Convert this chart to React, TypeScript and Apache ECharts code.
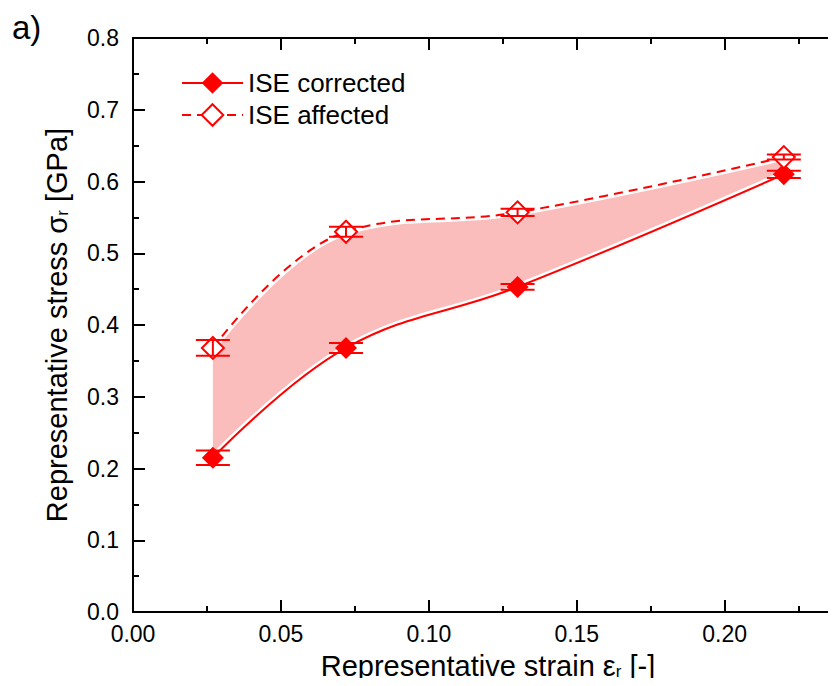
import React, { useEffect, useRef } from "react";
import * as echarts from "echarts";

const strain = [0.027, 0.072, 0.13, 0.22];
const corrected = [0.215, 0.368, 0.453, 0.61];
const correctedErr = [0.01, 0.007, 0.004, 0.005];
const affected = [0.368, 0.53, 0.557, 0.634];
const affectedErr = [0.011, 0.007, 0.005, 0.0035];
const xMajorTicks = [0, 0.05, 0.1, 0.15, 0.2];
const yMajorTicks = [0, 0.1, 0.2, 0.3, 0.4, 0.5, 0.6, 0.7, 0.8];

const FONT = "'Liberation Sans', Arial, Helvetica, sans-serif";
const RED = "#ff0000";
const SMOOTH = 0.4;

function fmtX(v: number) {
  return xMajorTicks.some((t) => Math.abs(t - v) < 1e-9) ? v.toFixed(2) : "";
}
function fmtY(v: number) {
  return yMajorTicks.some((t) => Math.abs(t - v) < 1e-9) ? v.toFixed(1) : "";
}

const axisLineStyle = { show: true, onZero: false, lineStyle: { color: "#000", width: 2 } };
const tickStyle = { color: "#000", width: 2 };

function errorBarRender(params: any, api: any) {
  const x = api.value(0);
  const y = api.value(1);
  const e = api.value(2);
  const top = api.coord([x, y + e]);
  const bot = api.coord([x, y - e]);
  const hw = 17;
  const st = { stroke: RED, lineWidth: 2 };
  return {
    type: "group",
    children: [
      { type: "line", shape: { x1: top[0], y1: top[1], x2: bot[0], y2: bot[1] }, style: st },
      { type: "line", shape: { x1: top[0] - hw, y1: top[1], x2: top[0] + hw, y2: top[1] }, style: st },
      { type: "line", shape: { x1: bot[0] - hw, y1: bot[1], x2: bot[0] + hw, y2: bot[1] }, style: st },
    ],
  };
}

// white vertical strokes below the lower curve to hide anti-aliased fill edges
function maskEdgeRender(params: any, api: any) {
  const x = api.value(0);
  const y = api.value(1);
  const p0 = api.coord([x, 0]);
  const p1 = api.coord([x, y]);
  return {
    type: "line",
    shape: { x1: p0[0], y1: p0[1], x2: p1[0], y2: p1[1] },
    style: { stroke: "#fff", lineWidth: 3 },
  };
}

export default function App() {
  const ref = useRef<HTMLDivElement>(null);
  useEffect(() => {
    if (!ref.current) return;
    const chart = echarts.init(ref.current, undefined, { renderer: "svg" });
    const xBase = { type: "value", min: 0, max: 0.24, splitLine: { show: false }, z: 10 };
    const yBase = { type: "value", min: 0, max: 0.8, splitLine: { show: false }, z: 10 };
    const subRich = { sub: { fontSize: 17, lineHeight: 10, verticalAlign: "bottom", color: "#000", fontFamily: FONT } };
    const option: any = {
      animation: false,
      backgroundColor: "#fff",
      grid: { left: 133, top: 38, width: 710, height: 574, outerBoundsMode: "none", containLabel: false },
      legend: {
        data: ["ISE corrected", "ISE affected"],
        orient: "vertical",
        left: 176,
        top: 65,
        itemWidth: 61,
        itemHeight: 27,
        itemGap: 6,
        selectedMode: false,
        textStyle: { fontSize: 26, color: "#000", fontFamily: FONT },
      },
      xAxis: [
        {
          ...xBase,
          position: "bottom",
          interval: 0.05,
          axisLine: axisLineStyle,
          axisTick: { show: true, inside: true, length: 12, lineStyle: tickStyle },
          axisLabel: { formatter: fmtX, fontSize: 23, color: "#000", fontFamily: FONT, margin: 10, showMaxLabel: false },
          name: "Representative strain ε{sub|r} [-]",
          nameLocation: "middle",
          nameGap: 39,
          nameMoveOverlap: false,
          nameTextStyle: { fontSize: 29, lineHeight: 29, color: "#000", fontFamily: FONT, rich: subRich },
        },
        {
          ...xBase,
          position: "bottom",
          interval: 0.025,
          axisLine: { show: false, onZero: false },
          axisTick: { show: true, inside: true, length: 6, lineStyle: tickStyle },
          axisLabel: { show: false },
        },
        {
          ...xBase,
          position: "top",
          interval: 0.05,
          axisLine: axisLineStyle,
          axisTick: { show: true, inside: true, length: 12, lineStyle: tickStyle },
          axisLabel: { show: false },
        },
        {
          ...xBase,
          position: "top",
          interval: 0.025,
          axisLine: { show: false, onZero: false },
          axisTick: { show: true, inside: true, length: 6, lineStyle: tickStyle },
          axisLabel: { show: false },
        },
      ],
      yAxis: [
        {
          ...yBase,
          position: "left",
          interval: 0.1,
          axisLine: axisLineStyle,
          axisTick: { show: true, inside: true, length: 12, lineStyle: tickStyle },
          axisLabel: { formatter: fmtY, fontSize: 23, color: "#000", fontFamily: FONT, margin: 14 },
          name: "Representative stress σ{sub|r} [GPa]",
          nameLocation: "middle",
          nameGap: 62,
          nameMoveOverlap: false,
          nameTextStyle: { fontSize: 29, lineHeight: 29, color: "#000", fontFamily: FONT, rich: subRich },
        },
        {
          ...yBase,
          position: "left",
          interval: 0.05,
          axisLine: { show: false, onZero: false },
          axisTick: { show: true, inside: true, length: 6, lineStyle: tickStyle },
          axisLabel: { show: false },
        },
        {
          ...yBase,
          position: "right",
          interval: 0.1,
          axisLine: axisLineStyle,
          axisTick: { show: true, inside: true, length: 12, lineStyle: tickStyle },
          axisLabel: { show: false },
        },
        {
          ...yBase,
          position: "right",
          interval: 0.05,
          axisLine: { show: false, onZero: false },
          axisTick: { show: true, inside: true, length: 6, lineStyle: tickStyle },
          axisLabel: { show: false },
        },
      ],
      series: [
        {
          type: "line",
          name: "fillUpper",
          data: strain.map((x, i) => [x, affected[i]]),
          smooth: SMOOTH,
          symbol: "none",
          lineStyle: { width: 0, opacity: 0 },
          areaStyle: { color: "#fbbcbc", opacity: 1 },
          silent: true,
          z: 1,
        },
        {
          type: "line",
          name: "fillLowerMask",
          data: strain.map((x, i) => [x, corrected[i]]),
          smooth: SMOOTH,
          symbol: "none",
          lineStyle: { width: 0, opacity: 0 },
          areaStyle: { color: "#ffffff", opacity: 1 },
          silent: true,
          z: 1.5,
        },
        {
          type: "custom",
          name: "maskEdges",
          renderItem: maskEdgeRender,
          data: strain.map((x, i) => [x, corrected[i]]),
          encode: { x: 0, y: 1 },
          silent: true,
          z: 1.6,
        },
        {
          type: "line",
          name: "whiteCorrected",
          data: strain.map((x, i) => [x, corrected[i]]),
          smooth: SMOOTH,
          symbol: "none",
          lineStyle: { color: "#fff", width: 7 },
          silent: true,
          z: 2,
        },
        {
          type: "line",
          name: "whiteAffected",
          data: strain.map((x, i) => [x, affected[i]]),
          smooth: SMOOTH,
          symbol: "none",
          lineStyle: { color: "#fff", width: 7 },
          silent: true,
          z: 2,
        },
        {
          type: "line",
          name: "ISE corrected",
          data: strain.map((x, i) => [x, corrected[i]]),
          smooth: SMOOTH,
          symbol: "diamond",
          symbolSize: 22,
          lineStyle: { color: RED, width: 2 },
          itemStyle: { color: RED },
          z: 3,
        },
        {
          type: "line",
          name: "ISE affected",
          data: strain.map((x, i) => [x, affected[i]]),
          smooth: SMOOTH,
          symbol: "emptyDiamond",
          symbolSize: 22,
          lineStyle: { color: RED, width: 2, type: [9, 6] },
          itemStyle: { color: RED, borderWidth: 2 },
          z: 3,
        },
        {
          type: "custom",
          name: "errCorrected",
          renderItem: errorBarRender,
          data: strain.map((x, i) => [x, corrected[i], correctedErr[i]]),
          encode: { x: 0, y: 1 },
          silent: true,
          z: 5,
        },
        {
          type: "custom",
          name: "errAffected",
          renderItem: errorBarRender,
          data: strain.map((x, i) => [x, affected[i], affectedErr[i]]),
          encode: { x: 0, y: 1 },
          silent: true,
          z: 5,
        },
      ],
      graphic: [
        {
          type: "text",
          x: 12,
          y: 11,
          style: { text: "a)", fontSize: 33, fontFamily: FONT, fill: "#000", align: "left", verticalAlign: "top" },
        },
        {
          type: "text",
          x: 439,
          y: 260,
          style: { text: "ISE", fontSize: 41, fontFamily: FONT, fill: "#000", align: "center", verticalAlign: "middle" },
        },
        {
          type: "text",
          x: 650,
          y: 540,
          style: { text: "Ni SX", fontSize: 41, fontFamily: FONT, fill: "#000", align: "left", verticalAlign: "middle" },
        },
      ],
    };
    chart.setOption(option);
    return () => chart.dispose();
  }, []);
  return <div ref={ref} style={{ width: 836, height: 686, margin: -8 }} />;
}
